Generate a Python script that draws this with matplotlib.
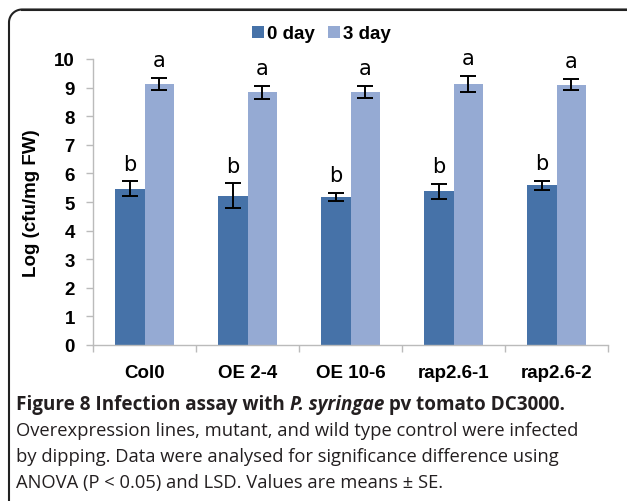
import numpy as np
import matplotlib
import matplotlib.pyplot as plt
from matplotlib.patches import Patch
from matplotlib.lines import Line2D

plt.rcParams['font.family'] = ['Liberation Sans', 'DejaVu Sans']

# data
lines = ['Col0', 'OE 2-4', 'OE 10-6', 'rap2.6-1', 'rap2.6-2']
day0 = [5.47, 5.22, 5.17, 5.37, 5.58]
day0_se = [0.25, 0.43, 0.14, 0.27, 0.16]
day3 = [9.13, 8.84, 8.84, 9.13, 9.10]
day3_se = [0.22, 0.23, 0.21, 0.28, 0.20]
day0_letters = ['b', 'b', 'b', 'b', 'b']
day3_letters = ['a', 'a', 'a', 'a', 'a']
yticks = list(range(0, 11))

c_dark = '#4672A8'
c_light = '#95AAD3'
c_axis = '#BBBBBB'

W, H = 627, 502
fig = plt.figure(figsize=(W / 100, H / 100), dpi=100, facecolor='white')

# rounded frame (pixel coords from top-left): left edge, top edge, corner arc
fl, ft, rad = 9, 10.5, 13
ang = np.linspace(np.pi, np.pi / 2, 20)
px = np.concatenate([[fl], fl + rad + rad * np.cos(ang), [W - 1]])
py = np.concatenate([[H - 1], ft + rad - rad * np.sin(ang), [ft]])
frame = Line2D(px / W, 1 - py / H, transform=fig.transFigure,
               color='#222222', linewidth=1.5, solid_joinstyle='round')
fig.lines.append(frame)
# extra explicit top edge
fig.lines.append(Line2D([22 / W, 1.0], [1 - ft / H, 1 - ft / H], transform=fig.transFigure,
                        color='#222222', linewidth=1.5))

ax = fig.add_axes([93 / W, 1 - 346 / H, (608 - 93) / W, (346 - 60) / H])

x = np.arange(len(lines))
bw = 0.286
ax.bar(x - bw / 2, day0, bw, color=c_dark, zorder=2)
ax.bar(x + bw / 2, day3, bw, color=c_light, zorder=2)
ekw = dict(fmt='none', ecolor='black', elinewidth=1.4, capsize=5.5, capthick=1.4, zorder=3)
ax.errorbar(x - bw / 2, day0, yerr=day0_se, **ekw)
ax.errorbar(x + bw / 2, day3, yerr=day3_se, **ekw)

for xi, v, e, s in zip(x - bw / 2, day0, day0_se, day0_letters):
    ax.annotate(s, (xi, v + e), xytext=(0, 8.5), textcoords='offset points',
                ha='center', va='baseline', fontsize=15, family='DejaVu Sans')
for xi, v, e, s in zip(x + bw / 2, day3, day3_se, day3_letters):
    ax.annotate(s, (xi, v + e), xytext=(0, 8.5), textcoords='offset points',
                ha='center', va='baseline', fontsize=15, family='DejaVu Sans',
                annotation_clip=False)

ax.set_xlim(-0.5, len(lines) - 0.5)
ax.set_ylim(0, 10)
ax.set_yticks(yticks)
ax.set_yticklabels([str(t) for t in yticks], fontsize=13.5, fontweight='bold')
ax.set_xticks(x)
ax.set_xticklabels(lines, fontsize=13.5, fontweight='bold')
ax.set_xticks(np.arange(-0.5, len(lines)), minor=True)
ax.tick_params(axis='x', which='major', length=0, pad=14)
ax.tick_params(axis='x', which='minor', length=5, width=1, color=c_axis, direction='out')
ax.tick_params(axis='y', length=5, width=1, color=c_axis, direction='out', pad=8)
ax.set_ylabel('Log (cfu/mg FW)', fontsize=13.5, fontweight='bold', labelpad=10)
for sp in ['top', 'right']:
    ax.spines[sp].set_visible(False)
for sp in ['left', 'bottom']:
    ax.spines[sp].set_color(c_axis)
    ax.spines[sp].set_linewidth(1)

handles = [Patch(facecolor=c_dark, label='0 day'), Patch(facecolor=c_light, label='3 day')]
fig.legend(handles=handles, loc='center', bbox_to_anchor=(321 / W, 1 - 35 / H), ncol=2,
           frameon=False, handlelength=0.65, handleheight=0.65, handletextpad=0.15,
           columnspacing=0.7, prop={'weight': 'bold', 'size': 13.5})

# caption
cap_font = ['Open Sans', 'DejaVu Sans']
cap_color = '#231F20'
cap_size = 13.2
r = fig.canvas.get_renderer()
x0 = 16 / W
y1 = 1 - 410 / H
xpos = x0
for txt, style in [('Figure 8 Infection assay with ', 'normal'),
                   ('P. syringae', 'italic'),
                   (' pv tomato DC3000.', 'normal')]:
    t = fig.text(xpos, y1, txt, fontsize=13.6, fontweight='bold', fontstyle=style,
                 family=cap_font, color=cap_color, va='baseline', ha='left')
    bb = t.get_window_extent(renderer=r)
    xpos = bb.x1 / W

caption = ['Overexpression lines, mutant, and wild type control were infected',
           'by dipping. Data were analysed for significance difference using',
           'ANOVA (P < 0.05) and LSD. Values are means \u00b1 SE.']
for i, line in enumerate(caption):
    fig.text(x0, 1 - (436 + 26 * i) / H, line, fontsize=cap_size, family=cap_font,
             color=cap_color, va='baseline', ha='left')

fig.savefig('out.png', dpi=100, facecolor='white', bbox_inches=None)
